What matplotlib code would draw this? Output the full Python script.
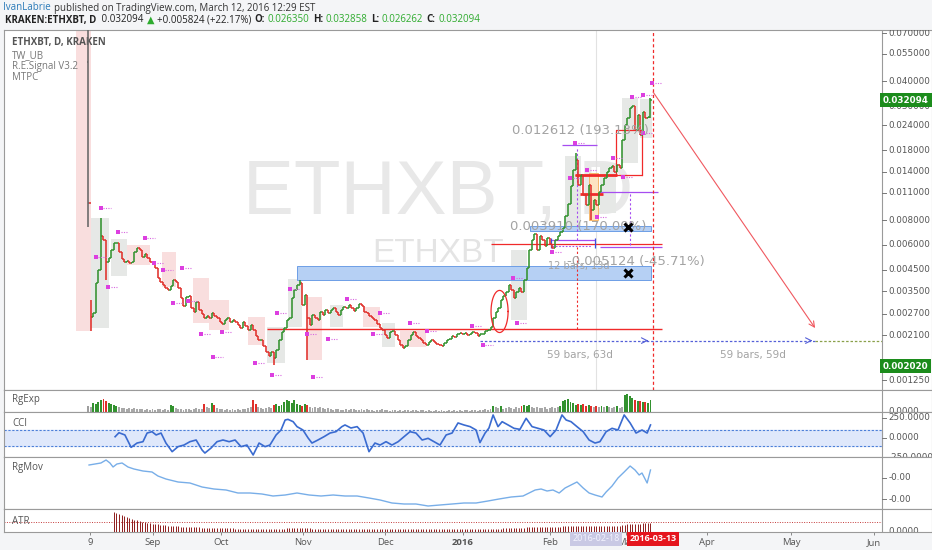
import matplotlib
matplotlib.use('Agg')
import matplotlib.pyplot as plt
from matplotlib.patches import Rectangle
import numpy as np

plt.rcParams['font.family'] = ['Open Sans', 'DejaVu Sans']

# ---------------- data (bar index 0 = 2015-08-07, 218 = 2016-03-12) ----------------
closes = [
    0.00974, 0.00259, 0.00273, 0.00385, 0.00448, 0.00664, 0.00634, 0.00491, 0.00515, 0.00565,
    0.00612, 0.00612, 0.00552, 0.00509, 0.00491, 0.00497, 0.00485, 0.00491, 0.00552, 0.00578,
    0.00565, 0.00521, 0.00540, 0.00515, 0.00491, 0.00485, 0.00459, 0.00409, 0.00390, 0.00376,
    0.00363, 0.00355, 0.00372, 0.00399, 0.00390, 0.00363, 0.00324, 0.00295, 0.00328, 0.00331,
    0.00288, 0.00275, 0.00309, 0.00281, 0.00269, 0.00257, 0.00263, 0.00257, 0.00272, 0.00263,
    0.00257, 0.00245, 0.00240, 0.00251, 0.00257, 0.00245, 0.00251, 0.00245, 0.00237, 0.00229,
    0.00245, 0.00234, 0.00223, 0.00237, 0.00223, 0.00209, 0.00199, 0.00199, 0.00186, 0.00173,
    0.00165, 0.00173, 0.00161, 0.00177, 0.00199, 0.00218, 0.00229, 0.00251, 0.00257, 0.00324,
    0.00355, 0.00376, 0.00385, 0.00298, 0.00335, 0.00257, 0.00237, 0.00266, 0.00257, 0.00251,
    0.00275, 0.00266, 0.00281, 0.00272, 0.00281, 0.00288, 0.00275, 0.00266, 0.00281, 0.00291,
    0.00288, 0.00298, 0.00288, 0.00278, 0.00288, 0.00302, 0.00295, 0.00275, 0.00272, 0.00263,
    0.00257, 0.00251, 0.00240, 0.00229, 0.00223, 0.00211, 0.00204, 0.00218, 0.00220, 0.00211,
    0.00199, 0.00188, 0.00181, 0.00186, 0.00199, 0.00211, 0.00218, 0.00209, 0.00204, 0.00199,
    0.00192, 0.00188, 0.00194, 0.00199, 0.00194, 0.00190, 0.00188, 0.00186, 0.00192, 0.00199,
    0.00201, 0.00209, 0.00207, 0.00214, 0.00216, 0.00214, 0.00216, 0.00211, 0.00214, 0.00218,
    0.00216, 0.00209, 0.00214, 0.00214, 0.00220, 0.00223, 0.00232, 0.00257, 0.00275, 0.00288,
    0.00316, 0.00331, 0.00347, 0.00376, 0.00355, 0.00324, 0.00347, 0.00363, 0.00347, 0.00399,
    0.00459, 0.00565, 0.00634, 0.00678, 0.00565, 0.00664, 0.00634, 0.00592, 0.00646, 0.00604,
    0.00578, 0.00634, 0.00664, 0.00699, 0.00727, 0.00838, 0.00962, 0.01186, 0.01428, 0.01604,
    0.01200, 0.01348, 0.01069, 0.00952, 0.01200, 0.00898, 0.01009, 0.00952, 0.01106, 0.01200,
    0.01300, 0.01396, 0.01466, 0.01496, 0.01396, 0.01514, 0.01466, 0.02023, 0.02407, 0.02609,
    0.02932, 0.03000, 0.02271, 0.02703, 0.02143, 0.02797, 0.02609, 0.02635, 0.032094,
]
first_open = 0.05
last_high, last_low = 0.032858, 0.026262
# (high, low) extremes for bars whose wick runs past open/close
wicks = {0: (0.09, 0.0074), 1: (0.00316, 0.00220), 5: (0.00818, None), 7: (None, 0.00399),
         72: (None, 0.00149), 82: (0.00399, None), 85: (None, 0.00158), 189: (0.0174, None),
         195: (None, 0.0080), 218: (last_high, last_low)}

volume = [6, 5, 9, 8, 10, 12, 13, 11, 9, 8, 7,
          6, 5, 4, 4, 3, 4, 3, 4, 3, 3,
          3, 2, 3, 2, 3, 2, 3, 3, 2, 3, 2,
          7, 6, 4, 3,
          3, 2, 3, 3, 2, 3, 4, 3, 3,
          8, 5, 4, 9,
          7, 4, 3, 3, 2, 3, 2,
          3, 2, 3, 2, 3, 3, 4, 5,
          12, 8, 5,
          4, 3, 4, 5, 4,
          7, 8, 6, 7,
          10, 12, 11, 9, 12, 8,
          7, 6, 8, 7, 5, 4, 5,
          4, 5, 4, 3, 4, 3, 2, 3,
          3, 2, 2, 3, 2, 3, 3, 2, 2, 3,
          2, 3, 2, 2, 1, 2, 2, 3, 2, 2,
          1, 2, 2, 1, 2, 1, 2, 2, 1, 2,
          2, 1, 2, 2, 1, 2, 1, 1, 2, 1,
          2, 1, 1, 2, 1, 2, 1, 2, 1, 2,
          2, 1, 2, 2, 1, 2, 2, 3, 2, 3,
          6, 5, 4, 6, 3, 4,
          5, 4, 3, 5, 4, 6,
          7, 6, 7, 5, 4,
          5, 4, 4, 5, 3, 4, 5, 4, 5, 6,
          11, 12, 13, 10, 9, 7, 8,
          7, 8, 6, 7, 6, 5, 6,
          5, 6, 5, 6, 5, 4, 5, 6, 4, 5,
          17, 18, 16, 14,
          12, 11, 11, 10, 10, 9, 12]

atr_start = 10
atr = [0.0060, 0.0057, 0.0054, 0.0051, 0.0048, 0.0045, 0.0042, 0.0039, 0.0037, 0.0036,
       0.0033, 0.0031, 0.0030, 0.0028, 0.0027, 0.0025, 0.0024, 0.0024, 0.0022, 0.0021,
       0.0021, 0.0019, 0.0019, 0.0018, 0.0018, 0.0018, 0.0016, 0.0016, 0.0016, 0.0015,
       0.0015, 0.0014, 0.0014, 0.0014, 0.0013, 0.0013, 0.0013, 0.0013, 0.0012, 0.0012,
       0.0012, 0.0012, 0.0011, 0.0011, 0.0011, 0.0011, 0.0011, 0.0010, 0.0010, 0.0010,
       0.0010, 0.0010, 0.0010, 0.0010, 0.0010, 0.0010, 0.0010, 0.0010, 0.0010, 0.0010,
       0.0010, 0.0010, 0.0010, 0.0010, 0.0010, 0.0010, 0.0010, 0.0011, 0.0011, 0.0011,
       0.0011, 0.0011, 0.0011, 0.0011, 0.0011, 0.0011, 0.0011, 0.0010, 0.0010, 0.0010,
       0.0010, 0.0010, 0.0009, 0.0009, 0.0009, 0.0009, 0.0009, 0.0009, 0.0009, 0.0009,
       0.0009, 0.0008, 0.0008, 0.0008, 0.0008, 0.0008, 0.0008, 0.0008, 0.0008, 0.0008,
       0.0008, 0.0008, 0.0008, 0.0008, 0.0008, 0.0008, 0.0008, 0.0008, 0.0008, 0.0008,
       0.0008, 0.0008, 0.0008, 0.0008, 0.0008, 0.0008, 0.0008, 0.0008, 0.0008, 0.0008,
       0.0008, 0.0008, 0.0008, 0.0008, 0.0008, 0.0008, 0.0008, 0.0008, 0.0008, 0.0008,
       0.0008, 0.0008, 0.0008, 0.0008, 0.0008, 0.0008, 0.0008, 0.0008, 0.0008, 0.0008,
       0.0009, 0.0009, 0.0009, 0.0009, 0.0009, 0.0009, 0.0009, 0.0010, 0.0010, 0.0010,
       0.0010, 0.0011, 0.0011, 0.0011, 0.0012, 0.0012, 0.0012, 0.0013, 0.0013, 0.0013,
       0.0014, 0.0014, 0.0015, 0.0015, 0.0015, 0.0015, 0.0016, 0.0016, 0.0016, 0.0016,
       0.0016, 0.0016, 0.0016, 0.0016, 0.0017, 0.0017, 0.0017, 0.0018, 0.0018, 0.0019,
       0.0019, 0.0019, 0.0019, 0.0019, 0.0019, 0.0019, 0.0018, 0.0018, 0.0018, 0.0018,
       0.0018, 0.0018, 0.0018, 0.0018, 0.0018, 0.0019, 0.0019, 0.0021, 0.0022, 0.0023,
       0.0024, 0.0024, 0.0025, 0.0025, 0.0025, 0.0026, 0.0026, 0.0026, 0.0027]
atr_level = 0.0029

cci_x = [10.5, 12, 14.3, 16.7, 19, 21.3, 22.9, 24.8, 26.4, 28.3,
         30.2, 32.6, 34.9, 37.2, 39.5, 41.9, 44.2, 45.3, 47.7, 50,
         52.3, 54.7, 57, 59.3, 61.6, 64, 66.3, 68.6, 70.5, 72.9,
         74.8, 76.4, 77.5, 79.5, 81, 83.3, 85.3, 86.8, 89.1, 91.5,
         93.8, 96.1, 98.4, 99.6, 101.9, 104.3, 106.6, 108.9, 111.2, 113.2,
         115.5, 117.8, 120.2, 122.5, 124.8, 127.1, 129.5, 131.8, 134.1, 136.4,
         138.8, 141.1, 143.4, 145.7, 148.1, 150.4, 151.9, 153.9, 155.4, 157,
         158.9, 160.5, 162.8, 165.1, 167.4, 169.8, 172.1, 174.4, 176.7, 179.1,
         181.4, 183.7, 185.3, 187.2, 189.5, 191.9, 194.2, 196.5, 198.4, 200.8,
         203.1, 205.4, 207.8, 210.1, 212.4, 214.7, 216.7, 218]
cci = [16, 66, 38, -117, -63, -46, 62, 79, 38, 62,
       -63, -171, -108, -88, -46, -25, -150, -188, -125, -46,
       -25, -46, -25, -108, -88, -212, -63, -108, -88, 38,
       100, 225, 233, 204, 142, 100, 0, -63, -25, 17,
       62, 79, 142, 163, 125, 142, 62, -171, -63, -88,
       -46, -88, -46, 17, 79, 62, -25, -4, -46, -88,
       38, 62, 188, 163, 142, 100, -58, 62, 125, 288,
       142, 204, 163, 121, 108, 246, 142, 121, 100, 17,
       100, 288, 225, 204, 142, 79, -25, -63, -46, 79,
       121, 100, 288, 188, 62, 100, 62, 163]

rgmov_x = [0.4, 2.7, 5, 7, 8.5, 9.7, 11.2, 13.2, 15.5, 17.8,
           21.3, 24.8, 27.1, 30.2, 34.9, 39.5, 44.2, 48.8, 53.5, 58.1,
           62.8, 67.4, 71.7, 76.4, 81, 85.7, 90.3, 95, 99.6, 104.3,
           108.9, 113.2, 117.8, 122.5, 127.1, 131.8, 136.4, 141.1, 145.7, 150.4,
           155, 159.3, 164, 168.6, 173.3, 175.6, 177.9, 180.2, 182.6, 184.9,
           187.2, 189.5, 191.9, 194.2, 196.5, 199.2, 200.8, 203.1, 205.4, 207.8,
           210.1, 212, 213.6, 214.7, 216.7, 218]
rgmov = [44, 45, 46, 49, 46, 42, 45, 46, 42, 40,
         38, 37, 33, 30, 27, 26, 22, 20, 19, 16,
         16, 15, 13, 14, 16, 14, 13, 14, 13, 13,
         11, 9, 6, 5, 5, 3, 4, 5, 6, 6,
         8, 10, 12, 13, 19, 20, 18, 19, 16, 21,
         24, 27, 21, 16, 14, 12, 17, 23, 31, 37,
         43, 39, 34, 36, 26, 39]

price_ticks = [0.07, 0.055, 0.04, 0.03, 0.024, 0.018, 0.014, 0.011, 0.008,
               0.006, 0.0045, 0.0035, 0.0027, 0.0021, 0.00125]
month_pos = [0.8, 25.2, 51.5, 83.3, 115.1, 145.3, 179.1, 208.5, 240, 272.5, 304.6]
month_lbl = ['9', 'Sep', 'Oct', 'Nov', 'Dec', '2016', 'Feb', 'Mar', 'Apr', 'May', 'Jun']

# indicator boxes behind the bars: (first bar, last bar, top, bottom, kind)
boxes = [(-4.6, 1.2, 0.0725, 0.00220, 'p'), (1.2, 8, 0.00818, 0.00229, 'g'),
         (8.9, 15, 0.00641, 0.00418, 'g'), (15, 24, 0.00598, 0.00475, 'p'),
         (28.7, 34, 0.00552, 0.00368, 'p'), (40.7, 47, 0.00408, 0.00243, 'p'),
         (47, 54.6, 0.00316, 0.00223, 'p'), (62, 68.6, 0.00260, 0.00188, 'p'),
         (69.4, 76.4, 0.00232, 0.00152, 'g'), (77.5, 83, 0.00403, 0.00232, 'g'),
         (84.9, 90.7, 0.00327, 0.00158, 'p'), (93.8, 98.8, 0.00298, 0.00232, 'g'),
         (106.6, 113, 0.00291, 0.00232, 'p'), (114, 119, 0.00243, 0.00184, 'g'),
         (121, 131, 0.00220, 0.00184, 'p'), (164, 170, 0.00565, 0.00251, 'g'),
         (185, 191, 0.01680, 0.00712, 'g'), (198.4, 204.6, 0.01547, 0.00868, 'g'),
         (207, 213, 0.0331, 0.01547, 'g'), (214, 218.5, 0.0327, 0.0207, 'g')]

dot_x = [5, 11.6, 3, 7.8, 22, 25.6, 29, 36.4, 33, 38.8, 43.8, 52, 48.4, 64.7, 71.3, 73.3,
         78.3, 84.9, 87.2, 93, 100.4, 110.5, 113.2, 124.8, 131.4, 149, 153, 164.7, 166.3,
         180, 186.8, 188.8, 193.4, 197.3, 203.5, 207.4, 215.1, 210.9, 215.1, 218.6]
dot_y = [0.00920, 0.00697, 0.00521, 0.00368, 0.00650, 0.00486, 0.00448, 0.00459, 0.00305,
         0.00312, 0.00213, 0.00218, 0.00164, 0.00152, 0.00132, 0.00272, 0.00361, 0.00213,
         0.00129, 0.00201, 0.00319, 0.00213, 0.00272, 0.00243, 0.00220, 0.00234, 0.00188,
         0.00408, 0.00243, 0.00552, 0.01302, 0.01953, 0.01428, 0.00828, 0.01642, 0.01317,
         0.02194, 0.03331, 0.03409, 0.03918]

# ---------------- layout ----------------
W, H = 932, 550
XL, XR = -32.56, 327.1          # bar-index range of the full-width panels
AX_SEP = 307.75                 # price scale divider
LBL_X = 310.1
GREEN, RED, GRAY = '#33922f', '#e0302b', '#8a8a8a'
EDGE = '#9a9a9a'

fig = plt.figure(figsize=(W / 100, H / 100), dpi=100, facecolor='#f4f5f7')


def panel(top, bottom):
    a = fig.add_axes([4 / W, 1 - bottom / H, (W - 4) / W, (bottom - top) / H])
    a.set_facecolor('white')
    a.set_xlim(XL, XR)
    a.set_xticks([])
    a.set_yticks([])
    for s in a.spines.values():
        s.set_color(EDGE)
        s.set_linewidth(0.8)
    a.axvline(AX_SEP, color=EDGE, lw=0.8, zorder=6)
    return a


def scale_label(a, v, txt, **kw):
    a.plot([AX_SEP, AX_SEP + 1.5], [v, v], color='#777777', lw=0.7, zorder=6)
    a.text(LBL_X, v, txt, ha='left', va='center', fontsize=6.3, color='#555555',
           family='DejaVu Sans', clip_on=True, zorder=6, **kw)


ax = panel(30, 390)
ax.set_yscale('log')
ax.set_ylim(0.001114, 0.0725)
ax.set_yticks([])
ax.minorticks_off()

# watermark
ax.text(0.2575, 0.4889, 'ETHXBT, D', transform=ax.transAxes, fontsize=55, color='#e8e8e8',
        family='Liberation Sans', ha='left', va='baseline', zorder=0)
ax.text(0.3966, 0.3556, 'ETHXBT', transform=ax.transAxes, fontsize=24, color='#e4e4e4',
        family='Liberation Sans', ha='left', va='baseline', zorder=0)

for x0, x1, top, bot, kind in boxes:
    fc = '#f9dede' if kind == 'p' else '#e6e8e6'
    ax.add_patch(Rectangle((x0, bot), x1 - x0, top - bot, fc=fc, ec='none', zorder=1))

# OHLC bars
n = len(closes)
opens = [first_open] + closes[:-1]
idx = np.arange(n)
highs, lows, cols = [], [], []
for i in range(n):
    hi, lo = max(opens[i], closes[i]), min(opens[i], closes[i])
    if i in wicks:
        hi = wicks[i][0] or hi
        lo = wicks[i][1] or lo
    highs.append(hi)
    lows.append(lo)
    cols.append(GREEN if closes[i] >= opens[i] else RED)
cols[0] = '#666666'
ax.vlines(idx, lows, highs, colors=cols, lw=1.15, zorder=4)
ax.hlines(opens, idx - 0.5, idx, colors=cols, lw=1.1, zorder=4)
ax.hlines(closes, idx, idx + 0.5, colors=cols, lw=1.1, zorder=4)

# signal dots
ax.scatter(dot_x, dot_y, s=8, marker='s', color='#dc3fe0', lw=0, zorder=5)
ax.hlines(dot_y, np.array(dot_x) + 1, np.array(dot_x) + 3.8, colors='#d86ae0', lw=0.8,
          linestyles=(0, (1, 1.2)), zorder=5)

# zones and drawings
ax.add_patch(Rectangle((81, 0.00399), 218.2 - 81, 0.00470 - 0.00399, fc='#b6d0f4', ec='#6d9ee6',
                       lw=0.7, zorder=2))
ax.add_patch(Rectangle((171.3, 0.00704), 218.2 - 171.3, 0.00746 - 0.00704, fc='#b6d0f4',
                       ec='#6d9ee6', lw=0.7, zorder=2))
ax.add_patch(Rectangle((194, 0.0080), 3.7, 0.0138 - 0.0080, fc='#fde3c2', ec='#f5b66a', lw=0.7,
                       zorder=2))
ax.hlines(0.002258, 69.4, 222.5, color='#f02a2a', lw=1.0, zorder=3)
ax.hlines(0.00605, 156.2, 222.5, color='#f02a2a', lw=0.9, zorder=3)
ax.hlines(0.00585, 198.4, 222.5, color='#a64df0', lw=0.9, zorder=3)
ax.hlines(0.01107, 198.4, 221, color='#a64df0', lw=0.9, zorder=3)
ax.hlines(0.01909, 183.7, 197.3, color='#a64df0', lw=0.9, zorder=3)
ax.vlines(210, 0.00598, 0.01107, color='#a64df0', lw=0.8, linestyles=(0, (2, 2)), zorder=3)
ax.vlines(189.5, 0.00634, 0.01865, color='#a64df0', lw=0.8, linestyles=(0, (2, 2)), zorder=3)
ax.vlines(189.5, 0.002258, 0.00587, color='#f02a2a', lw=0.8, linestyles=(0, (2, 2)), zorder=3)
ax.vlines(196.9, 0.001114, 0.0725, color='#e2e2e2', lw=0.8, zorder=1)
ax.vlines(219, 0.001114, 0.0725, color='#f02a2a', lw=0.9, linestyles=(0, (2.5, 2)), zorder=3)
# measure bracket
ax.hlines(0.00634, 179.5, 196.5, color='#a64df0', lw=0.9, zorder=3)
ax.hlines(0.00590, 180, 195, color='#a64df0', lw=0.8, linestyles=(0, (1.5, 1.5)), zorder=3)
ax.vlines([179.5, 196.5], 0.00580, 0.00650, color='#3b4de0', lw=0.9, zorder=3)
# red box of the last swing
ax.plot([204.7, 204.7, 214.7, 214.7], [0.01348, 0.02271, 0.02271, 0.01348], color='#f02a2a',
        lw=0.9, zorder=3)
ax.hlines(0.01348, 188.8, 214.7, color='#f02a2a', lw=0.9, zorder=3)
ax.hlines(0.01348, 188.8, 205, color='#f02a2a', lw=2.0, zorder=3)
ax.hlines(0.01081, 190.7, 199.6, color='#f02a2a', lw=2.0, zorder=3)
# ellipse around breakout
t = np.linspace(0, 2 * np.pi, 120)
ax.plot(159.5 + 3.3 * np.cos(t), 10 ** (np.log10(0.00277) + 0.106 * np.sin(t)),
        color='#f02a2a', lw=0.9, zorder=5)
# projections
ax.hlines(0.001976, 152, 281.8, color='#5560d8', lw=0.9, linestyles=(0, (2, 1.5)), zorder=3)
ax.hlines(0.001976, 281.8, AX_SEP, color='#8aa04a', lw=0.9, linestyles=(0, (2, 1.5)), zorder=3)
for xe in (218.2, 281.8):
    ax.annotate('', xy=(xe, 0.001976), xytext=(xe - 3, 0.001976),
                arrowprops=dict(arrowstyle='->', color='#5560d8', lw=0.8))
ax.annotate('', xy=(281.8, 0.002285), xytext=(219, 0.0353),
            arrowprops=dict(arrowstyle='->', color='#f0585f', lw=0.8, shrinkA=0, shrinkB=0))
ax.plot([209.3, 209.3], [0.00738, 0.00432], 'x', color='black', ms=6, mew=2.2, zorder=7)

mtxt = dict(family='DejaVu Sans', color='#a3a3a3', va='center', zorder=6)
ax.text(164.3, 0.02271, '0.012612 (193.13%)', ha='left', fontsize=9.5, **mtxt)
ax.text(163.6, 0.00738, '0.003910 (170.00%)', ha='left', fontsize=9.5, **mtxt)
ax.text(178.3, 0.00468, '12 bars, 13d', ha='left', fontsize=7, **mtxt)
ax.text(185.7, 0.00497, '-0.005124 (-45.71%)', ha='left', fontsize=9.5, **mtxt)
ax.text(190.7, 0.00167, '59 bars, 63d', ha='center', fontsize=7.5, **mtxt)
ax.text(257.8, 0.00167, '59 bars, 59d', ha='center', fontsize=7.5, **mtxt)

for v in price_ticks:
    scale_label(ax, v, '%.6f' % v)
badge = dict(ha='left', va='center', fontsize=6.3, color='white', fontweight='bold',
             family='DejaVu Sans', clip_on=True, zorder=8)
ax.text(AX_SEP + 0.4, 0.032094, '0.032094',
        bbox=dict(boxstyle='square,pad=0.3', fc='#1c8c1c', ec='none'), **badge)
ax.text(AX_SEP + 0.4, 0.001471, '0.002020',
        bbox=dict(boxstyle='square,pad=0.3', fc='#1c8c1c', ec='none'), **badge)

leg = dict(transform=ax.transAxes, fontsize=7, color='#777777', ha='left', va='center')
ax.text(8 / 928, 1 - 12 / 360, 'ETHXBT, D, KRAKEN', fontweight='bold', **dict(leg, color='#555555'))
ax.text(8 / 928, 1 - 26 / 360, 'TW_UB', **leg)
ax.text(8 / 928, 1 - 37 / 360, 'R.E.Signal V3.2', **leg)
ax.text(8 / 928, 1 - 48 / 360, 'MTPC', **leg)

# ---- RgExp ----
ax1 = panel(390, 412)
ax1.set_ylim(-0.3, 21.5)
vcol = []
for i, v in enumerate(volume):
    if v >= 6:
        vcol.append(cols[i] if i else '#9e9e9e')
    else:
        vcol.append('#a8a8a8')
ax1.bar(idx, volume, width=0.75, color=vcol, zorder=3)
scale_label(ax1, 0, '0.0000')

# ---- CCI ----
ax2 = panel(412, 457)
ax2.set_ylim(-237.5, 325)
ax2.axhspan(-100, 100, xmax=(AX_SEP - XL) / (XR - XL), color='#dfe8fb', zorder=1)
ax2.hlines([-100, 100], XL, AX_SEP, color='#4c7fd8', lw=0.8, linestyles=(0, (2, 1.5)), zorder=2)
ax2.plot(cci_x, cci, color='#3a6bd0', lw=1.2, zorder=3)
for v, s in [(250, '250.0000'), (0, '0.0000'), (-250, '-250.0000')]:
    scale_label(ax2, v, s)

# ---- RgMov ----
ax3 = panel(457, 509)
ax3.set_ylim(0, 52)
ax3.plot(rgmov_x, rgmov, color='#78aee8', lw=1.0, zorder=3)
for v in (31, 10):
    scale_label(ax3, v, '-0.00')

# ---- ATR ----
ax4 = panel(509, 532)
ax4.set_ylim(0, 0.0069)
ax4.vlines(np.arange(atr_start, atr_start + len(atr)), 0, atr, color='#8e1c1c', lw=0.7, zorder=3)
ax4.axhline(atr_level, xmax=(AX_SEP - XL) / (XR - XL), color='#c43a3a', lw=0.7,
            linestyle=(0, (1, 1.5)), zorder=2)
scale_label(ax4, 0, '0.0000')

for a, name, ypx in [(ax1, 'RgExp', 9), (ax2, 'CCI', 11), (ax3, 'RgMov', 11), (ax4, 'ATR', 12)]:
    bb = a.get_position()
    fig.text(12 / W, 1 - ((1 - bb.y1) * H + ypx) / H, name, fontsize=7,
             color='#555555', ha='left', va='center')

# x axis
ax4.set_xticks(month_pos)
ax4.set_xticklabels(month_lbl)
ax4.tick_params(axis='x', length=2.5, width=0.7, color='#888888', labelsize=6.8,
                labelcolor='#555555', pad=2)
for lab in ax4.get_xticklabels():
    if lab.get_text() == '2016':
        lab.set_fontweight('bold')
ax4.text(196.9, -0.30, '2016-02-18', transform=ax4.get_xaxis_transform(), ha='center',
         va='center', fontsize=6.5, color='#f4f4ff', clip_on=False, zorder=9,
         bbox=dict(boxstyle='square,pad=0.25', fc='#c9c9e4', ec='none'))
ax4.text(219, -0.30, '2016-03-13', transform=ax4.get_xaxis_transform(), ha='center',
         va='center', fontsize=6.5, color='white', fontweight='bold', clip_on=False, zorder=9,
         bbox=dict(boxstyle='square,pad=0.3', fc='#e5161e', ec='none'))

# header
renderer = fig.canvas.get_renderer()


def run(x, y, parts, size=7):
    for txt, color, weight in parts:
        fam = ['DejaVu Sans'] if txt == '▲' else ['Open Sans', 'DejaVu Sans']
        tt = fig.text(x / W, 1 - y / H, txt, color=color, fontweight=weight, fontsize=size,
                      ha='left', va='center', family=fam)
        x += tt.get_window_extent(renderer).width + 3


run(3, 8, [('IvanLabrie', '#2a7ab8', 'normal'),
           ('published on TradingView.com, March 12, 2016 12:29 EST', '#333333', 'normal')])
hg = '#2eab2e'
run(5, 20, [('KRAKEN:ETHXBT, D', '#222222', 'bold'), (' 0.032094', '#222222', 'normal'),
            ('▲', hg, 'normal'), ('+0.005824 (+22.17%)', '#222222', 'normal'),
            ('O:', '#222222', 'bold'), ('0.026350', hg, 'normal'),
            ('H:', '#222222', 'bold'), ('0.032858', hg, 'normal'),
            ('L:', '#222222', 'bold'), ('0.026262', hg, 'normal'),
            ('C:', '#222222', 'bold'), ('0.032094', hg, 'normal')])

fig.savefig('out.png', dpi=100, facecolor=fig.get_facecolor())
